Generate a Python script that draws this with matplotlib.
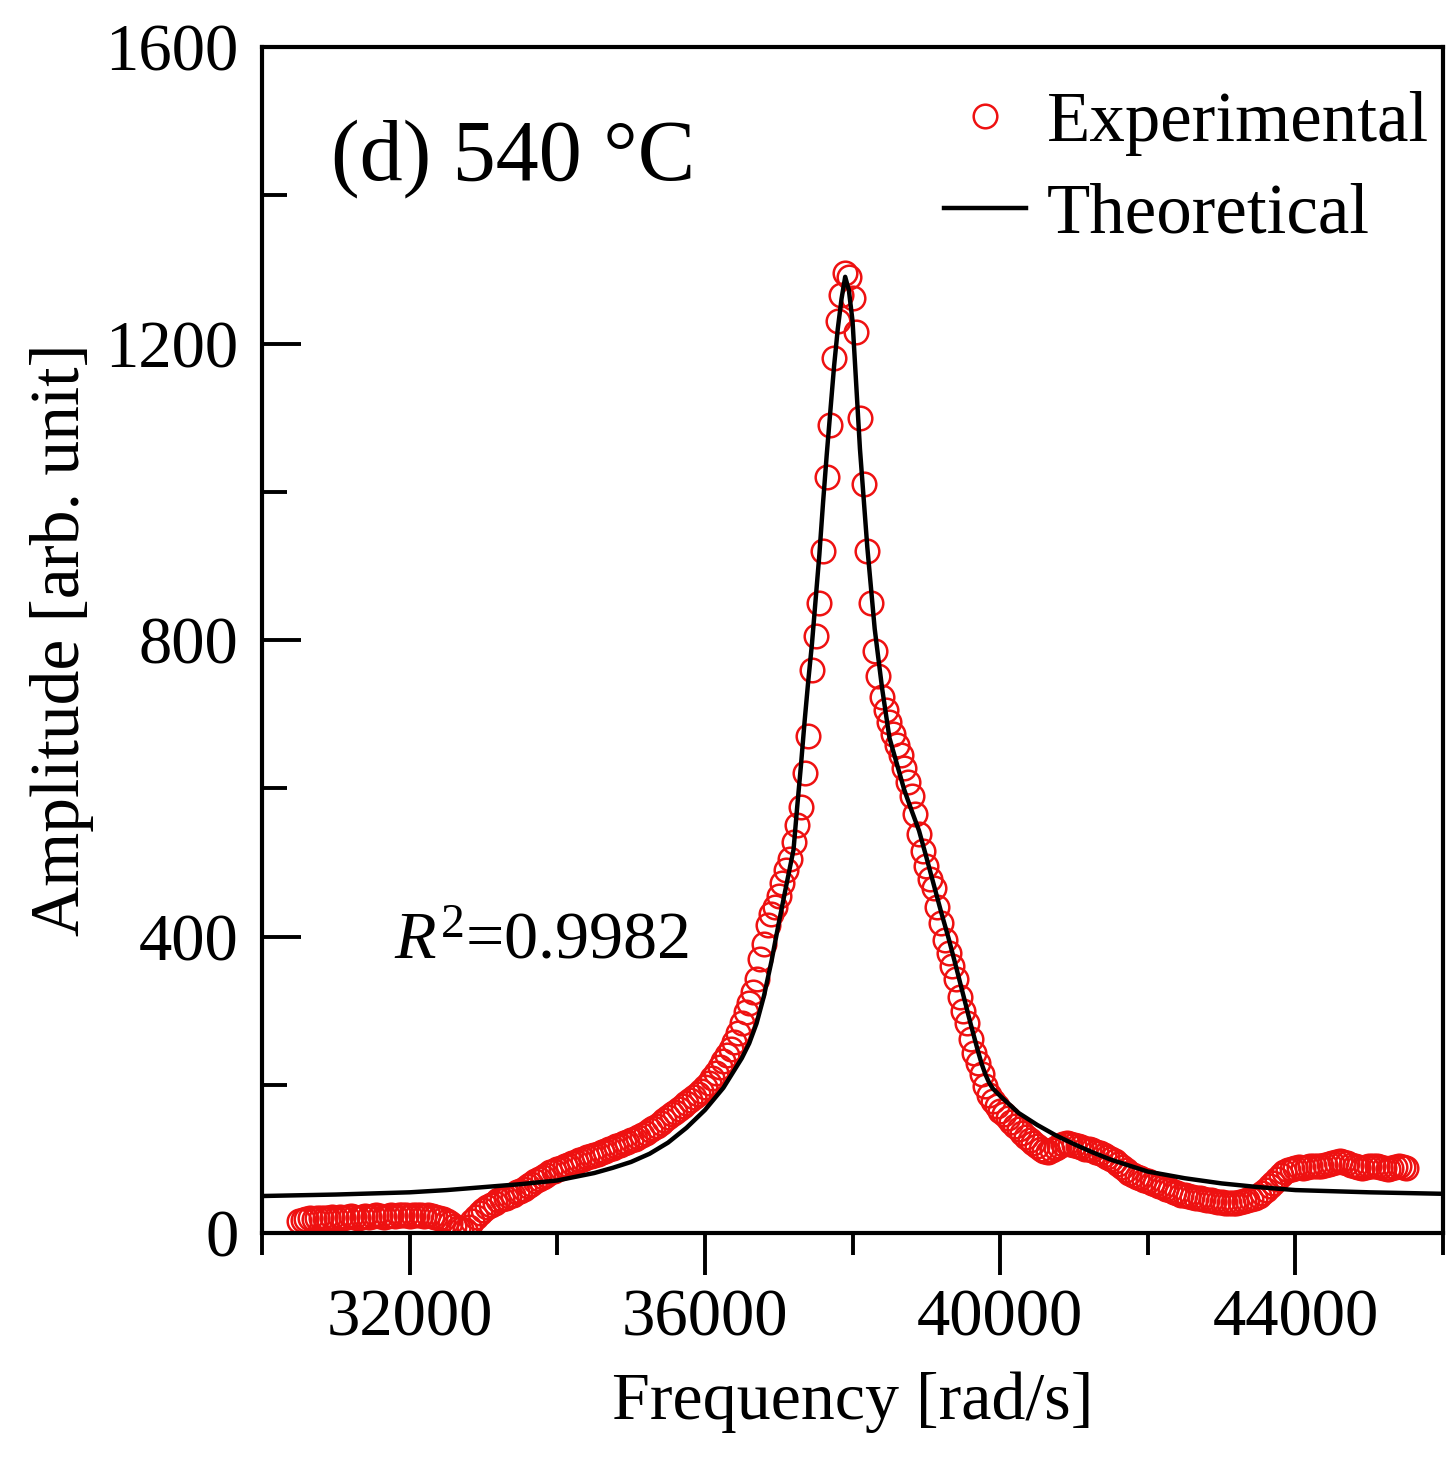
import numpy as np
import matplotlib
matplotlib.use("Agg")
import matplotlib.pyplot as plt
from matplotlib.ticker import MultipleLocator

plt.rcParams['font.family'] = ['Liberation Serif', 'DejaVu Serif']
plt.rcParams['mathtext.fontset'] = 'custom'
plt.rcParams['mathtext.rm'] = 'Liberation Serif'
plt.rcParams['mathtext.it'] = 'Liberation Serif:italic'

# experimental sweep: 30500 .. 45500 rad/s, 50 rad/s step
exp_freq = np.arange(30500, 45501, 50)
exp_amp = [
    16, 18, 19, 20, 19, 20, 21, 20, 21, 22,
    21, 22, 21, 22, 23, 22, 21, 22, 23, 22, 23, 24, 23, 22, 23, 24, 23, 24, 25, 24,
    23, 24, 25, 24, 23, 24, 23, 22, 21, 19, 16, 13, 10, 7, 5, 4, 8, 16, 22, 27,
    31, 35, 38, 41, 44, 46, 48, 50, 52, 55, 57, 60, 63, 66, 70, 73, 76, 79, 82, 84,
    86, 88, 90, 92, 94, 96, 98, 100, 102, 104, 106, 107, 109, 111, 113, 115, 117, 119, 121, 123,
    125, 127, 129, 132, 135, 139, 142, 145, 149, 152, 156, 160, 164, 168, 172, 176, 180, 184, 188, 192,
    197, 203, 209, 216, 224, 232, 240, 249, 258, 270, 283, 298, 310, 325, 343, 370, 390, 415, 430, 440,
    455, 472, 490, 505, 527, 550, 575, 620, 670, 760, 805, 850, 920, 1020, 1090, 1180, 1230, 1265, 1295, 1290,
    1262, 1215, 1100, 1010, 920, 850, 785, 752, 723, 706, 690, 673, 658, 645, 628, 608, 590, 565, 538, 515,
    495, 478, 465, 440, 418, 395, 378, 360, 343, 318, 300, 283, 262, 243, 230, 215, 198, 186, 178, 172,
    165, 160, 155, 150, 145, 140, 135, 130, 126, 122, 118, 114, 111, 110, 112, 115, 118, 120, 121, 120,
    119, 118, 116, 114, 113, 112, 110, 108, 106, 103, 100, 97, 93, 89, 85, 81, 78, 76, 74, 72,
    70, 68, 66, 64, 62, 60, 58, 56, 54, 52, 51, 50, 49, 48, 47, 46, 45, 44, 43, 42,
    42, 41, 41, 40, 41, 42, 43, 44, 46, 48, 50, 54, 58, 63, 68, 73, 78, 82, 85, 87,
    88, 89, 88, 89, 90, 91, 90, 91, 92, 93, 94, 96, 97, 96, 94, 92, 90, 89, 88, 89,
    90, 91, 90, 89, 88, 87, 88, 89, 90, 89, 88,
]

theo_freq = [30000, 31000, 32000, 32500, 33000, 33500, 34000, 34250, 34500, 34750,
             35000, 35250, 35500, 35750, 36000, 36250, 36500, 36600, 36700, 36800,
             36900, 37000, 37100, 37200, 37250, 37300, 37350, 37400, 37450, 37500,
             37550, 37600, 37650, 37700, 37750, 37800, 37850, 37900, 37950, 38000,
             38100, 38200, 38300, 38400, 38500, 38600, 38700, 38800, 38900, 39000,
             39100, 39200, 39300, 39400, 39500, 39600, 39700, 39750, 39800, 39850,
             39900, 39950, 40000, 40250, 40500, 40750, 41000, 41250, 41500, 42000,
             42500, 43000, 43500, 44000, 45000, 46000]
theo_amp = [50, 52, 55, 58, 62, 66, 71, 76, 81, 88,
            96, 107, 122, 142, 166, 196, 236, 256, 283, 320,
            366, 418, 468, 517, 575, 630, 690, 745, 795, 855,
            915, 985, 1050, 1110, 1170, 1220, 1260, 1290, 1272, 1230,
            1058, 925, 815, 735, 668, 633, 598, 570, 543, 507,
            470, 433, 398, 360, 321, 282, 245, 228, 214, 203,
            195, 190, 185, 162, 146, 132, 120, 109, 99, 83,
            74, 67, 62, 58, 55, 53]

fig = plt.figure(figsize=(14.46, 14.61), dpi=100)
ax = fig.add_axes([0.1812, 0.156, 0.8168, 0.8118])

ax.plot(exp_freq, exp_amp, 'o', ms=17, mfc='none', mec='#ee1111', mew=1.8,
        label='Experimental', zorder=2)
ax.plot(theo_freq, theo_amp, '-', color='black', lw=3.2, label='Theoretical', zorder=3)

ax.set_xlim(30000, 46000)
ax.set_ylim(0, 1600)
ax.xaxis.set_major_locator(MultipleLocator(4000))
ax.xaxis.set_minor_locator(MultipleLocator(2000))
ax.yaxis.set_major_locator(MultipleLocator(400))
ax.yaxis.set_minor_locator(MultipleLocator(200))

for s in ax.spines.values():
    s.set_linewidth(3)
ax.tick_params(axis='x', which='major', direction='out', length=30, width=2.8,
               labelsize=48, pad=10)
ax.tick_params(axis='x', which='minor', direction='out', length=16, width=2.8)
ax.tick_params(axis='y', which='major', direction='in', length=28, width=2.8,
               labelsize=48, pad=17)
ax.tick_params(axis='y', which='minor', direction='in', length=18, width=2.8)

ax.set_xlabel('Frequency [rad/s]', fontsize=49, labelpad=16)
ax.set_ylabel('Amplitude [arb. unit]', fontsize=50, labelpad=8)

ax.text(0.058, 0.906, '(d) 540 °C', transform=ax.transAxes, fontsize=62,
        va='center', ha='left')
ax.text(0.112, 0.245, r'$R^{2}$=0.9982', transform=ax.transAxes, fontsize=49,
        va='center', ha='left')

ax.legend(loc='upper right', bbox_to_anchor=(0.988, 0.963), frameon=False,
          fontsize=51, handlelength=1.15, handletextpad=0.3, labelspacing=0.38,
          borderpad=0, borderaxespad=0, numpoints=1)

fig.savefig('out.png', dpi=100)
